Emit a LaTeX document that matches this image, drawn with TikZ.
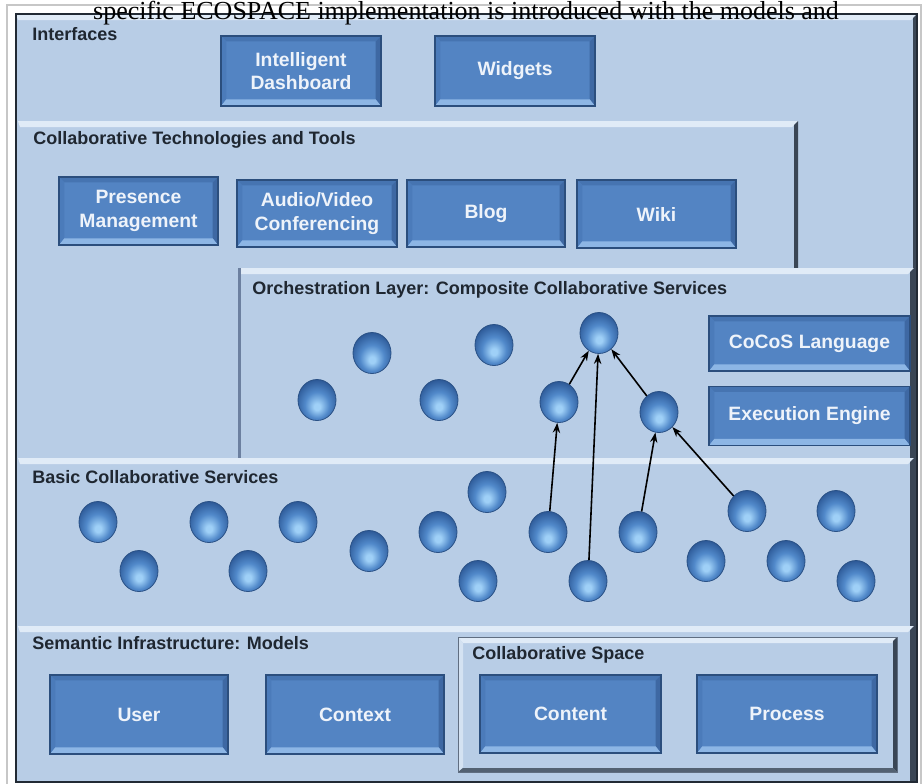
\documentclass[tikz,border=0pt]{standalone}
\usepackage{fontspec}
\setmainfont{Liberation Sans}
\newfontfamily\capfont{Liberation Serif}
\usetikzlibrary{arrows.meta,shapes.geometric}

\definecolor{panelfill}{HTML}{B8CDE6}
\definecolor{panelhi}{HTML}{E0EBF7}
\definecolor{paneldark}{HTML}{3A4655}
\definecolor{panelside}{HTML}{6C80A0}
\definecolor{framecol}{HTML}{222A34}
\definecolor{labelcol}{HTML}{1F2731}
\definecolor{btnface}{HTML}{5384C3}
\definecolor{btntop}{HTML}{4674B1}
\definecolor{btnleft}{HTML}{4B7BBA}
\definecolor{btnright}{HTML}{3E68A3}
\definecolor{btnbottom}{HTML}{8DB6E5}
\definecolor{btnedge}{HTML}{2B4E7D}
\definecolor{btntext}{HTML}{EEF3FA}
\definecolor{orbhi}{HTML}{9FD0F7}
\definecolor{orbmid}{HTML}{5189CA}
\definecolor{orbdark}{HTML}{2C5896}
\definecolor{orbline}{HTML}{2A5186}

% glossy service orb, lit from below
\pgfdeclareradialshading{orb}{\pgfpoint{0bp}{-9bp}}{%
  color(0bp)=(orbhi); color(4bp)=(orbhi); color(16bp)=(orbmid);
  color(29bp)=(orbdark); color(50bp)=(orbdark)}

% light blue layer with a bright top bevel and a dark right edge
\newcommand\bevelpanel[4]{%
  \fill[panelfill] (#1,#2) rectangle (#3,#4);
  \fill[panelhi] (#1,#2) -- (#3,#2) -- (#3-6,#2+6) -- (#1+2,#2+6) -- cycle;
  \fill[paneldark] (#3,#2) -- (#3,#4) -- (#3-4,#4) -- (#3-4,#2+4) -- cycle;
}

\begin{document}
\begin{tikzpicture}[x=0.75pt,y=-0.75pt,
  layerlabel/.style={font=\bfseries\fontsize{13.5}{15}\selectfont, text=labelcol,
    anchor=west, inner sep=0pt},
  bsize/.style 2 args={minimum width={#1*0.75pt}, minimum height={#2*0.75pt}},
  btn/.style={draw=btnedge, line width=0.8pt, fill=btnface, text=btntext,
    font=\bfseries\fontsize{14.5}{17.5}\selectfont, align=center, inner sep=0pt,
    path picture={
      \fill[btntop] (path picture bounding box.north west) -- (path picture bounding box.north east)
        -- ([xshift=-4pt,yshift=-4pt]path picture bounding box.north east)
        -- ([xshift=4pt,yshift=-4pt]path picture bounding box.north west) -- cycle;
      \fill[btnleft] (path picture bounding box.north west) -- (path picture bounding box.south west)
        -- ([xshift=4pt,yshift=5pt]path picture bounding box.south west)
        -- ([xshift=4pt,yshift=-4pt]path picture bounding box.north west) -- cycle;
      \fill[btnright] (path picture bounding box.north east) -- (path picture bounding box.south east)
        -- ([xshift=-4pt,yshift=5pt]path picture bounding box.south east)
        -- ([xshift=-4pt,yshift=-4pt]path picture bounding box.north east) -- cycle;
      \fill[btnbottom] (path picture bounding box.south west) -- (path picture bounding box.south east)
        -- ([xshift=-4pt,yshift=5pt]path picture bounding box.south east)
        -- ([xshift=4pt,yshift=5pt]path picture bounding box.south west) -- cycle;
    }},
  orbnode/.style={ellipse, minimum width={38*0.75pt}, minimum height={41*0.75pt},
    inner sep=0pt, shading=orb, draw=orbline, line width=0.6pt},
  arr/.style={-{Stealth[length=7.5pt,width=5.5pt]}, line width=1.2pt, black}
]
\useasboundingbox (0,0) rectangle (923,783);
\fill[white] (0,0) rectangle (923,783);
\draw[black!22, line width=0.8pt] (7,5) rectangle (921,800);

% layers, back to front
\bevelpanel{16}{14}{917}{782}      % Interfaces
\bevelpanel{18}{121}{798}{460}     % Collaborative Technologies and Tools
\bevelpanel{238}{268}{914}{460}    % Orchestration layer
\fill[panelside] (238,268) rectangle (241,460);
\bevelpanel{18}{458}{914}{782}     % Basic services
\bevelpanel{18}{626}{914}{782}     % Semantic infrastructure
% collaborative space box
\fill[panelfill] (458,637) rectangle (897,772);
\fill[panelhi] (458,637) -- (897,637) -- (892,643) -- (463,643) -- cycle;
\fill[panelhi!70!panelfill] (458,637) -- (463,643) -- (463,767) -- (458,772) -- cycle;
\fill[paneldark] (897,637) -- (897,772) -- (893,768) -- (893,641) -- cycle;
\fill[paneldark!80!panelfill] (458,772) -- (897,772) -- (893,768) -- (463,768) -- cycle;
\draw[paneldark!70!panelfill, line width=0.6pt] (458,637) rectangle (897,772);

\draw[framecol, line width=2pt] (16,14) rectangle (917,782);

% layer titles
\node[layerlabel] (tInterfaces) at (32,34) {Interfaces};
\node[layerlabel] (tTools) at (33,140) {Collaborative Technologies and Tools};
\node[layerlabel] (tOrch) at (252,290) {Orchestration Layer: Composite Collaborative Services};
\node[layerlabel] (tBasic) at (32,477) {Basic Collaborative Services};
\node[layerlabel] (tSem) at (32,643) {Semantic Infrastructure: Models};
\node[layerlabel] (tSpace) at (472,655) {Collaborative Space};

% buttons
\node[btn,bsize={160}{70}] (dash) at (301,71) {Intelligent\\Dashboard};
\node[btn,bsize={160}{70}] (widgets) at (515,71) {Widgets};
\node[btn,bsize={159}{68}] (presence) at (138.5,211) {Presence\\Management};
\node[btn,bsize={160}{67}] (av) at (317,213.5) {Audio/Video\\Conferencing};
\node[btn,bsize={158}{67}] (blog) at (486,213.5) {Blog};
\node[btn,bsize={159}{68}] (wiki) at (656.5,214) {Wiki};
\node[btn,bsize={201}{55}] (cocos) at (809.5,343.5) {CoCoS Language};
\node[btn,bsize={201}{59}] (exec) at (809.5,416) {Execution Engine};
\node[btn,bsize={178}{79}] (user) at (139,714.5) {User};
\node[btn,bsize={178}{79}] (context) at (355,714.5) {Context};
\node[btn,bsize={181}{78}] (content) at (570.5,714) {Content};
\node[btn,bsize={180}{78}] (process) at (787,714) {Process};

% composite services
\node[orbnode] (s1) at (372,353) {};
\node[orbnode] (s2) at (494,345) {};
\node[orbnode] (s3) at (599,333) {};
\node[orbnode] (s4) at (317,400) {};
\node[orbnode] (s5) at (439,400) {};
\node[orbnode] (s6) at (559,402) {};
\node[orbnode] (s7) at (659,412) {};

% basic services
\node[orbnode] (b1) at (98,522) {};
\node[orbnode] (b2) at (139,571) {};
\node[orbnode] (b3) at (209,522) {};
\node[orbnode] (b4) at (248,571) {};
\node[orbnode] (b5) at (298,522) {};
\node[orbnode] (b6) at (369,551) {};
\node[orbnode] (b7) at (438,532) {};
\node[orbnode] (b8) at (487,492) {};
\node[orbnode] (b9) at (478,581) {};
\node[orbnode] (b10) at (548,532) {};
\node[orbnode] (b11) at (588,581) {};
\node[orbnode] (b12) at (638,532) {};
\node[orbnode] (b13) at (747,511) {};
\node[orbnode] (b14) at (706,561) {};
\node[orbnode] (b15) at (836,511) {};
\node[orbnode] (b16) at (786,561) {};
\node[orbnode] (b17) at (856,581) {};

% composition arrows
\draw[arr] (b10) -- (s6);
\draw[arr] (b11) -- (s3);
\draw[arr] (b12) -- (s7);
\draw[arr] (b13) -- (s7);
\draw[arr] (s6) -- (s3);
\draw[arr] (s7) -- (s3);

% caption line running across the top
\node[font=\capfont\fontsize{19.5}{20}\selectfont, anchor=base, inner sep=0pt] (caption)
  at (466,19.5) {specific ECOSPACE implementation is introduced with the models and};
\end{tikzpicture}
\end{document}
